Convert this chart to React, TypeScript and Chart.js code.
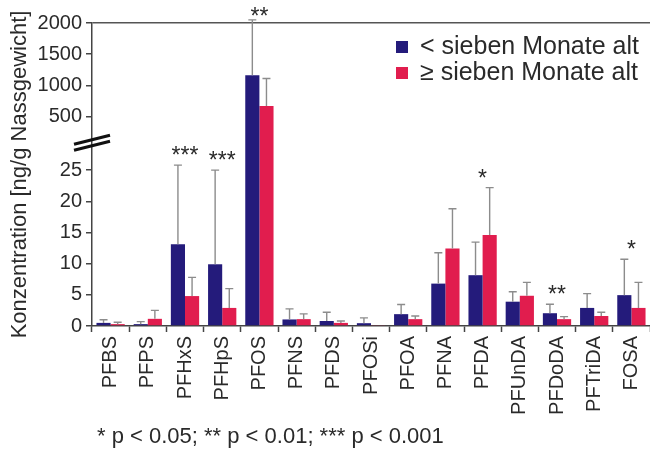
import React, { useEffect, useRef } from "react";
import { Chart, registerables } from "chart.js";

Chart.register(...registerables);

// ---------- data ----------
const categories = [
  "PFBS", "PFPS", "PFHxS", "PFHpS", "PFOS", "PFNS", "PFDS", "PFOSi",
  "PFOA", "PFNA", "PFDA", "PFUnDA", "PFDoDA", "PFTriDA", "FOSA",
];
const seriesLabels = ["< sieben Monate alt", "≥ sieben Monate alt"];
const youngMean = [0.5, 0.3, 13.1, 9.9, 1160, 1.05, 0.8, 0.45, 1.9, 6.8, 8.15, 3.9, 2.05, 2.9, 4.95];
const youngSD = [0.5, 0.4, 12.7, 15.1, 890, 1.7, 1.4, 0.85, 1.55, 4.95, 5.3, 1.6, 1.45, 2.3, 5.75];
const oldMean = [0.3, 1.15, 4.8, 2.9, 670, 1.1, 0.5, 0.1, 1.1, 12.45, 14.6, 4.85, 1.1, 1.6, 2.9];
const oldSD = [0.3, 1.35, 3.0, 3.1, 440, 0.85, 0.3, 0, 0.5, 6.35, 7.6, 2.15, 0.4, 0.6, 4.1];
const significance = ["", "", "***", "***", "**", "", "", "", "", "", "*", "", "**", "", "*"];
const lowerTicks = [0, 5, 10, 15, 20, 25];
const upperTicks = [500, 1000, 1500, 2000];
const footnote = "* p < 0.05; ** p < 0.01; *** p < 0.001";
const yTitle = "Konzentration [ng/g Nassgewicht]";

// broken axis: lower segment 0..LOWER_MAX in native units, upper segment compressed by UPPER_SCALE
const LOWER_MAX = 28.6;
const UPPER_SCALE = 100;
const BREAK_AT = 29.4;
const toAxis = (v: number) => (v <= LOWER_MAX ? v : LOWER_MAX + v / UPPER_SCALE);
const axisLabel = (a: number) =>
  a <= LOWER_MAX + 1e-6 ? String(Math.round(a)) : String(Math.round((a - LOWER_MAX) * UPPER_SCALE));

const NAVY = "#241b7b";
const RED = "#e11d4e";
const FONT = "'Liberation Sans', Arial, Helvetica, sans-serif";
const TEXT = "#2a2a2a";
const AXIS = "#444444";

const overlayPlugin = {
  id: "overlay",
  afterDatasetsDraw(chart: any) {
    const ctx = chart.ctx;
    const y = chart.scales.y;
    const area = chart.chartArea;
    const means = [youngMean, oldMean];
    const sds = [youngSD, oldSD];
    const capTops: number[] = categories.map(() => Infinity);
    ctx.save();
    ctx.strokeStyle = "#8c8c8c";
    ctx.lineWidth = 1.4;
    for (let d = 0; d < 2; d++) {
      const meta = chart.getDatasetMeta(d);
      meta.data.forEach((bar: any, j: number) => {
        const sd = sds[d][j];
        const y1 = y.getPixelForValue(toAxis(means[d][j] + sd));
        capTops[j] = Math.min(capTops[j], y1);
        if (sd <= 0) return;
        const y0 = y.getPixelForValue(toAxis(means[d][j]));
        ctx.beginPath();
        ctx.moveTo(bar.x, y0);
        ctx.lineTo(bar.x, y1);
        ctx.moveTo(bar.x - 4, y1);
        ctx.lineTo(bar.x + 4, y1);
        ctx.stroke();
      });
    }
    // significance stars
    const xs = chart.scales.x;
    ctx.fillStyle = TEXT;
    ctx.font = `23px ${FONT}`;
    ctx.textAlign = "center";
    ctx.textBaseline = "alphabetic";
    significance.forEach((s, j) => {
      if (!s) return;
      const cx = xs.getPixelForValue(j);
      const cy = Math.max(capTops[j] - 15, 11);
      ctx.fillText(s, cx, cy + 13);
    });
    // axis break marks
    const bx = area.left;
    const by = y.getPixelForValue(BREAK_AT);
    ctx.strokeStyle = "#111";
    ctx.lineWidth = 3;
    [-3, 3].forEach((o) => {
      ctx.beginPath();
      ctx.moveTo(bx - 18, by + o + 4.5);
      ctx.lineTo(bx + 18, by + o - 4.5);
      ctx.stroke();
    });
    // legend
    const colors = [NAVY, RED];
    ctx.font = `25px ${FONT}`;
    ctx.textAlign = "left";
    ctx.textBaseline = "middle";
    seriesLabels.forEach((lab, i) => {
      const ly = area.top + 24 + i * 26;
      ctx.fillStyle = colors[i];
      ctx.fillRect(area.right - 254, ly - 6, 12, 12);
      ctx.fillStyle = TEXT;
      ctx.fillText(lab, area.right - 230, ly);
    });
    // footnote
    ctx.font = `22px ${FONT}`;
    ctx.fillStyle = TEXT;
    ctx.fillText(footnote, area.left + 5, 437);
    ctx.restore();
  },
};

export default function App() {
  const ref = useRef<HTMLCanvasElement>(null);
  useEffect(() => {
    if (!ref.current) return;
    const yMax = toAxis(upperTicks[upperTicks.length - 1]);
    const chart = new Chart(ref.current, {
      type: "bar",
      data: {
        labels: categories,
        datasets: [
          { label: seriesLabels[0], data: youngMean.map(toAxis), backgroundColor: NAVY, borderWidth: 0 },
          { label: seriesLabels[1], data: oldMean.map(toAxis), backgroundColor: RED, borderWidth: 0 },
        ],
      },
      options: {
        responsive: false,
        animation: false,
        devicePixelRatio: 1,
        layout: { padding: { top: 23, left: 0, right: -2, bottom: 0 } },
        datasets: { bar: { categoryPercentage: 0.76, barPercentage: 1 } },
        plugins: { legend: { display: false }, tooltip: { enabled: false } },
        scales: {
          x: {
            type: "category",
            offset: true,
            grid: { display: true, drawOnChartArea: false, offset: true, tickLength: 6, tickColor: AXIS, tickWidth: 1.5 },
            border: { display: true, color: AXIS, width: 1.5 },
            ticks: {
              autoSkip: false, minRotation: 90, maxRotation: 90, padding: 4, color: TEXT,
              font: { size: 20, family: FONT },
            },
            afterFit: (s: any) => { s.height = 133; s.paddingLeft = 0; s.paddingRight = 0; },
          },
          y: {
            type: "linear",
            min: 0,
            max: yMax,
            afterBuildTicks: (s: any) => {
              s.ticks = [...lowerTicks, ...upperTicks.map(toAxis)].map((v) => ({ value: v }));
            },
            ticks: {
              autoSkip: false, padding: 4, color: TEXT, font: { size: 20, family: FONT },
              callback: (v: any) => axisLabel(Number(v)),
            },
            grid: {
              drawOnChartArea: true,
              color: (c: any) => (c.tick && Math.abs(c.tick.value - yMax) < 1e-6 ? "#555" : "rgba(0,0,0,0)"),
              lineWidth: 1.5,
              tickColor: AXIS, tickLength: 6, tickWidth: 1.5,
            },
            border: { display: true, color: AXIS, width: 1.5 },
            title: { display: true, text: yTitle, color: TEXT, font: { size: 22, family: FONT }, padding: { top: 7, bottom: 0 } },
            afterFit: (s: any) => { s.width = 92; },
          },
        },
      },
      plugins: [overlayPlugin],
    } as any);
    return () => chart.destroy();
  }, []);
  return (
    <div style={{ position: "absolute", left: 0, top: 0, width: 650, height: 459, background: "#fff" }}>
      <canvas ref={ref} width={650} height={459} />
    </div>
  );
}
